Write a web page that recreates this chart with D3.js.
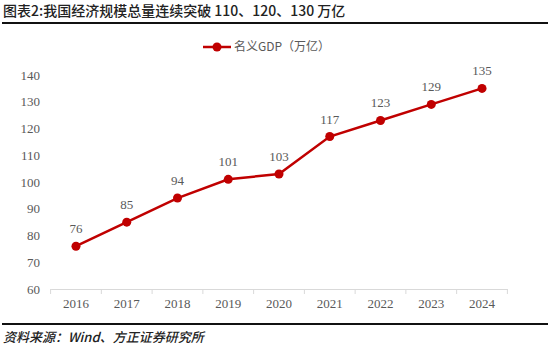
<!DOCTYPE html>
<html><head><meta charset="utf-8">
<script src="https://cdn.jsdelivr.net/npm/d3@7"></script>
<style>body{margin:0;background:#fff}svg{display:block}</style>
</head><body>
<script>
const years = ["2016","2017","2018","2019","2020","2021","2022","2023","2024"];
const gdp = [76, 85, 94, 101, 103, 117, 123, 129, 135];
const yTicks = [60,70,80,90,100,110,120,130,140];
const title = "图表2:我国经济规模总量连续突破 110、120、130 万亿";
const seriesName = "名义GDP（万亿）";
const source = "资料来源：Wind、方正证券研究所";

const W=550,H=350, red="#c00000", grey="#595959";
const svg=d3.select("body").append("svg").attr("width",W).attr("height",H);
const cjk="'Noto Sans CJK SC', sans-serif", serif="'Liberation Serif','Times New Roman',serif";

svg.append("text").attr("x",3).attr("y",16).attr("font-family",cjk).attr("font-size",14)
  .attr("font-weight",500).attr("fill","#222").text(title);
svg.append("rect").attr("x",2).attr("y",22).attr("width",546).attr("height",2).attr("fill","#111");

const x=d3.scaleBand().domain(years).range([50.6,507.4]);
const y=d3.scaleLinear().domain([60,140]).range([289,75]);

// y labels
svg.append("g").selectAll("text").data(yTicks).join("text")
  .attr("x",40).attr("y",d=>y(d)).attr("dy","0.35em").attr("text-anchor","end")
  .attr("font-family",serif).attr("font-size",13).attr("fill",grey).text(d=>d);

// x axis
const xa=svg.append("g").attr("transform","translate(0,289)")
  .call(d3.axisBottom(x).tickSize(0).tickPadding(10));
xa.select(".domain").attr("stroke","#d9d9d9").attr("stroke-width",1);
xa.selectAll("text").attr("font-family",serif).attr("font-size",13).attr("fill",grey);
const bounds=years.map(d=>x(d)).concat([x.range()[1]]);
xa.selectAll(".bt").data(bounds).join("line").attr("class","bt")
  .attr("x1",d=>d).attr("x2",d=>d).attr("y1",0).attr("y2",5).attr("stroke","#d9d9d9");

const cx=(d,i)=>x(years[i])+x.bandwidth()/2;
svg.append("path").datum(gdp).attr("fill","none").attr("stroke",red).attr("stroke-width",2.5)
  .attr("d",d3.line().x((d,i)=>cx(d,i)).y(d=>y(d)));
svg.append("g").selectAll("circle").data(gdp).join("circle")
  .attr("cx",cx).attr("cy",d=>y(d)).attr("r",4.5).attr("fill",red);
svg.append("g").selectAll("text").data(gdp).join("text")
  .attr("x",cx).attr("y",d=>y(d)-13).attr("text-anchor","middle")
  .attr("font-family",serif).attr("font-size",13).attr("fill",grey).text(d=>d);

// legend
svg.append("line").attr("x1",203).attr("x2",231).attr("y1",47).attr("y2",47).attr("stroke",red).attr("stroke-width",2.5);
svg.append("circle").attr("cx",217).attr("cy",47).attr("r",4.5).attr("fill",red);
svg.append("text").attr("x",234).attr("y",47).attr("dy","0.35em").attr("font-family",cjk)
  .attr("font-size",12).attr("fill",grey).text(seriesName);

svg.append("rect").attr("x",2).attr("y",323).attr("width",546).attr("height",2).attr("fill","#111");
svg.append("text").attr("x",3).attr("y",342).attr("font-family",cjk).attr("font-size",13)
  .attr("font-style","italic").attr("font-weight",500).attr("fill","#222").text(source);
</script>
</body></html>
